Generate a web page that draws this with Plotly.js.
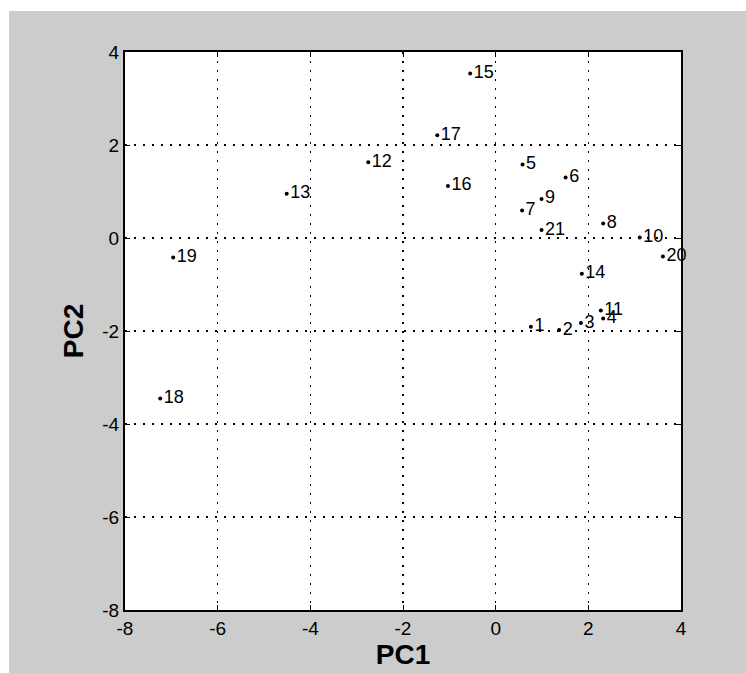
<!DOCTYPE html>
<html>
<head>
<meta charset="utf-8">
<script src="https://cdn.plot.ly/plotly-3.0.1.min.js"></script>
<style>
html,body{margin:0;padding:0;background:#ffffff;}
#chart{position:absolute;left:9px;top:11px;width:737px;height:662px;}
</style>
</head>
<body>
<div id="chart"></div>
<script>
const labels = ["1","2","3","4","5","6","7","8","9","10","11","12","13","14","15","16","17","18","19","20","21"];
const pc1 = [0.76, 1.37, 1.84, 2.32, 0.58, 1.51, 0.57, 2.32, 0.99, 3.11, 2.27, -2.75, -4.51, 1.86, -0.55, -1.03, -1.26, -7.24, -6.96, 3.61, 0.99];
const pc2 = [-1.91, -1.98, -1.83, -1.73, 1.58, 1.30, 0.59, 0.31, 0.84, 0.01, -1.56, 1.63, 0.95, -0.77, 3.54, 1.12, 2.21, -3.45, -0.42, -0.40, 0.17];
const xTicks = [-8, -6, -4, -2, 0, 2, 4];
const yTicks = [-8, -6, -4, -2, 0, 2, 4];

const trace = {
  x: pc1, y: pc2, text: labels,
  type: 'scatter', mode: 'markers+text',
  marker: {color: '#000000', size: 4},
  textposition: 'middle right',
  textfont: {family: 'Liberation Sans, Arial, sans-serif', size: 18, color: '#000000'},
  cliponaxis: false,
  hoverinfo: 'none'
};

const axisCommon = {
  showline: true, linecolor: '#000000', linewidth: 2, mirror: 'ticks',
  ticks: 'inside', ticklen: 5, tickwidth: 1, tickcolor: '#000000',
  showgrid: true, gridcolor: '#000000', gridwidth: 1.5, griddash: '1.5px,7.5px',
  zeroline: false,
  tickfont: {family: 'Liberation Sans, Arial, sans-serif', size: 19, color: '#000000'}
};

const layout = {
  width: 737, height: 662,
  paper_bgcolor: '#cccccc', plot_bgcolor: '#ffffff',
  margin: {l: 116, r: 65, t: 41, b: 63},
  showlegend: false,
  xaxis: Object.assign({}, axisCommon, {
    range: [-8, 4], tickvals: xTicks, ticktext: xTicks.map(String),
    title: {text: 'PC1', font: {family: 'Liberation Sans, Arial, sans-serif', size: 28, color: '#000000', weight: 'bold'}, standoff: 2}
  }),
  yaxis: Object.assign({}, axisCommon, {
    range: [-8, 4], tickvals: yTicks, ticktext: yTicks.map(String),
    title: {text: 'PC2', font: {family: 'Liberation Sans, Arial, sans-serif', size: 28, color: '#000000', weight: 'bold'}, standoff: 10}
  })
};

Plotly.newPlot('chart', [trace], layout, {displayModeBar: false, staticPlot: true});
</script>
</body>
</html>
